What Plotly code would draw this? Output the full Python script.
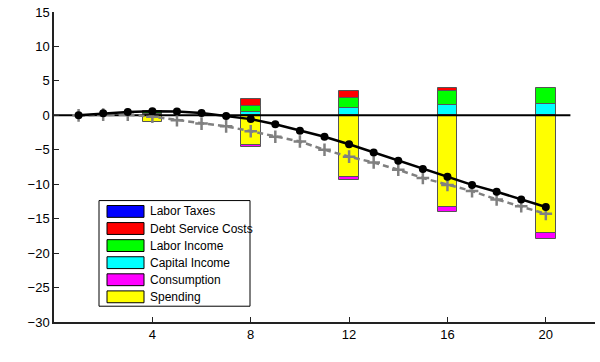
import plotly.graph_objects as go

# ---- data ----
bar_x = [4, 8, 12, 16, 20]
labor_taxes = [0, 0, 0, 0, 0]
debt_service = [0.2, 1.0, 0.95, 0.35, 0.0]
labor_income = [0.3, 0.9, 1.45, 2.15, 2.4]
capital_income = [0.2, 0.5, 1.1, 1.45, 1.6]
consumption = [0.0, -0.25, -0.45, -0.65, -0.85]
spending = [-1.0, -4.3, -8.9, -13.35, -17.05]

periods = list(range(1, 21))
total_line = [0.0, 0.3, 0.5, 0.6, 0.55, 0.35, -0.1, -0.55, -1.3, -2.25,
              -3.1, -4.2, -5.4, -6.6, -7.8, -8.9, -10.1, -11.1, -12.2, -13.3]
alt_line = [0.0, 0.1, 0.1, -0.2, -0.7, -1.2, -1.6, -2.3, -3.1, -3.8,
            -5.0, -6.0, -6.85, -7.9, -9.1, -10.1, -11.0, -12.2, -13.2, -14.3]

x_ticks = [4, 8, 12, 16, 20]
y_ticks = [15, 10, 5, 0, -5, -10, -15, -20, -25, -30]

legend_names = ["Labor Taxes", "Debt Service Costs", "Labor Income",
                "Capital Income", "Consumption", "Spending"]
legend_colors = ["#0000ff", "#ff0000", "#00ff00", "#00ffff", "#ff00ff", "#ffff00"]

FONT = "Liberation Sans, Arial, sans-serif"
W, H = 600, 362
ML, MR, MT, MB = 54, 5, 8, 40

fig = go.Figure()
edge = dict(color="#555555", width=1)
# positives stack upward in order, negatives stack downward in order
for vals, col in [(capital_income, "#00ffff"), (labor_income, "#00ff00"),
                  (debt_service, "#ff0000"), (labor_taxes, "#0000ff"),
                  (spending, "#ffff00"), (consumption, "#ff00ff")]:
    fig.add_trace(go.Bar(x=bar_x, y=[v if v != 0 else None for v in vals],
                         width=0.8, marker=dict(color=col, line=edge),
                         showlegend=False, hoverinfo="skip"))

# zero reference line
fig.add_trace(go.Scatter(x=[0, 21], y=[0, 0], mode="lines",
                         line=dict(color="black", width=2), showlegend=False))

fig.add_trace(go.Scatter(x=periods, y=alt_line, mode="lines+markers",
                         line=dict(color="#808080", width=2.5, dash="6px,4px"),
                         marker=dict(symbol="cross-thin", size=9,
                                     line=dict(color="#808080", width=2.5)),
                         showlegend=False))
fig.add_trace(go.Scatter(x=periods, y=total_line, mode="lines+markers",
                         line=dict(color="black", width=2.5),
                         marker=dict(symbol="circle", size=8, color="black"),
                         showlegend=False))

# manual legend (pixel positions -> paper coords)
pw, ph = W - ML - MR, H - MT - MB
def px(x):
    return (x - ML) / pw
def py(y):
    return (H - MB - y) / ph

shapes = [dict(type="rect", xref="paper", yref="paper",
               x0=px(99), x1=px(250), y0=py(306), y1=py(199),
               line=dict(color="black", width=1), fillcolor="white", layer="above")]
annotations = []
for i, (name, col) in enumerate(zip(legend_names, legend_colors)):
    cy = 210 + i * 17.3
    shapes.append(dict(type="rect", xref="paper", yref="paper",
                       x0=px(107), x1=px(144), y0=py(cy + 6), y1=py(cy - 6),
                       line=dict(color="black", width=1), fillcolor=col,
                       layer="above"))
    annotations.append(dict(xref="paper", yref="paper", x=px(148), y=py(cy),
                            xanchor="left", yanchor="middle", text=name,
                            showarrow=False,
                            font=dict(family=FONT, size=12, color="black")))

fig.update_layout(
    width=W, height=H, margin=dict(l=ML, r=MR, t=MT, b=MB),
    paper_bgcolor="white", plot_bgcolor="white",
    barmode="relative", bargap=0,
    shapes=shapes, annotations=annotations,
    font=dict(family=FONT, size=13, color="black"),
    xaxis=dict(range=[0, 22], tickvals=x_ticks, ticktext=[str(t) for t in x_ticks],
               ticks="inside", ticklen=5, tickcolor="#222", showgrid=False,
               zeroline=False, showline=True, linecolor="#222", linewidth=1.5,
               tickfont=dict(size=13)),
    yaxis=dict(range=[-30, 15], tickvals=y_ticks, ticks="inside", ticklen=5,
               tickcolor="#222", showgrid=False, zeroline=False, showline=True,
               linecolor="#222", linewidth=1.5, tickfont=dict(size=13),
               ticklabeloverflow="allow"),
)

fig.write_html("out.html", config={"displayModeBar": False},
               post_script="document.body.style.margin='0';document.body.style.overflow='hidden';")
